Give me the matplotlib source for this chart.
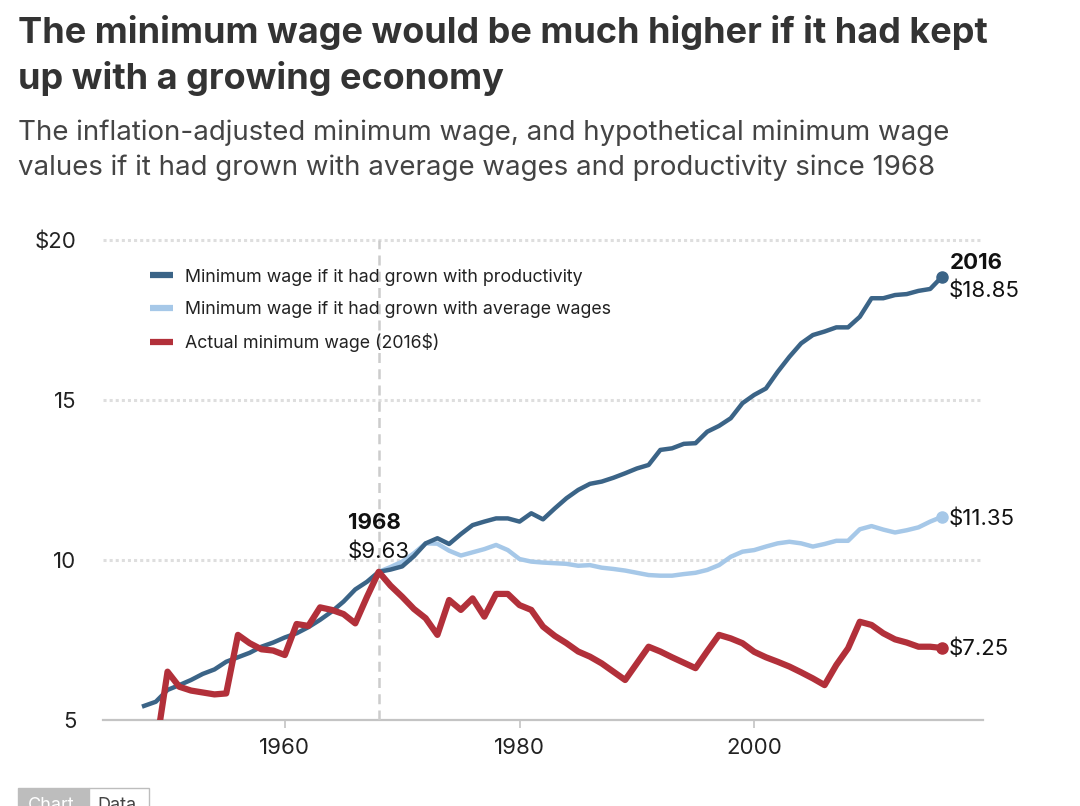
# Minimum wage vs. productivity and average wages, 1948-2016
import numpy as np
import matplotlib.pyplot as plt
import matplotlib.patches as mpatches

plt.rcParams['font.family'] = ['Inter', 'DejaVu Sans']

# data (2016 dollars)
years = list(range(1948, 2017))
productivity = [5.44, 5.57, 5.94, 6.09, 6.25, 6.44, 6.58, 6.82, 6.96, 7.10,
                7.29, 7.42, 7.58, 7.71, 7.90, 8.13, 8.39, 8.70, 9.08, 9.32,
                9.63, 9.70, 9.80, 10.12, 10.52, 10.68, 10.50, 10.81, 11.09, 11.20,
                11.30, 11.30, 11.20, 11.46, 11.27, 11.61, 11.93, 12.19, 12.38, 12.45,
                12.57, 12.71, 12.86, 12.97, 13.44, 13.49, 13.63, 13.65, 14.01, 14.19,
                14.43, 14.90, 15.16, 15.36, 15.88, 16.35, 16.77, 17.03, 17.14, 17.27,
                17.27, 17.60, 18.18, 18.18, 18.28, 18.31, 18.41, 18.47, 18.85]

avg_years = list(range(1968, 2017))
avg_wages = [9.63, 9.78, 9.95, 10.21, 10.52, 10.51, 10.29, 10.14, 10.24, 10.34,
             10.47, 10.31, 10.03, 9.95, 9.92, 9.90, 9.88, 9.82, 9.84, 9.76,
             9.72, 9.67, 9.60, 9.53, 9.51, 9.51, 9.56, 9.60, 9.69, 9.84,
             10.10, 10.26, 10.31, 10.42, 10.52, 10.57, 10.52, 10.42, 10.50, 10.60,
             10.60, 10.96, 11.06, 10.95, 10.86, 10.93, 11.02, 11.20, 11.35]

min_years = list(range(1949, 2017))
actual_min = [4.10, 6.51, 6.04, 5.92, 5.86, 5.80, 5.83, 7.66, 7.40, 7.21,
              7.17, 7.03, 8.00, 7.94, 8.52, 8.44, 8.31, 8.02, 8.85, 9.63,
              9.20, 8.85, 8.47, 8.18, 7.66, 8.75, 8.44, 8.80, 8.23, 8.94,
              8.94, 8.59, 8.44, 7.92, 7.63, 7.40, 7.14, 6.98, 6.77, 6.51,
              6.25, 6.77, 7.29, 7.14, 6.96, 6.79, 6.62, 7.15, 7.66, 7.55,
              7.40, 7.13, 6.96, 6.82, 6.67, 6.49, 6.30, 6.09, 6.72, 7.24,
              8.07, 7.97, 7.71, 7.52, 7.42, 7.29, 7.29, 7.25]

dark_blue = '#3b6487'
light_blue = '#a6c8e8'
red = '#b2303a'

W, H = 1080, 806
fig = plt.figure(figsize=(W / 100, H / 100), dpi=100)
ax = fig.add_axes([103 / W, 1 - 720 / H, (983 - 103) / W, 480 / H])

ax.set_xlim(1944.5, 2019.5)
ax.set_ylim(5, 20)

# gridlines
for v in [10, 15, 20]:
    ax.axhline(v, color='#dedede', lw=2.2, ls=(0, (1, 1)), zorder=1, clip_on=False)
ax.axhline(5, color='#c4c4c4', lw=1.6, zorder=1, clip_on=False)
ax.axvline(1968, color='#cccccc', lw=1.8, ls=(0, (4, 2.5)), zorder=1)

ax.plot(years, productivity, color=dark_blue, lw=3.2, zorder=3,
        solid_joinstyle='round', label='Minimum wage if it had grown with productivity')
ax.plot(avg_years, avg_wages, color=light_blue, lw=3.2, zorder=2,
        solid_joinstyle='round', label='Minimum wage if it had grown with average wages')
ax.plot(min_years, actual_min, color=red, lw=4.5, zorder=4,
        solid_joinstyle='round', label='Actual minimum wage (2016$)')

# end points
ax.plot(years[-1], productivity[-1], 'o', color=dark_blue, ms=8, zorder=5, clip_on=False)
ax.plot(avg_years[-1], avg_wages[-1], 'o', color=light_blue, ms=8, zorder=5, clip_on=False)
ax.plot(min_years[-1], actual_min[-1], 'o', color=red, ms=8, zorder=5, clip_on=False)

for s in ax.spines.values():
    s.set_visible(False)

ax.set_xticks([1960, 1980, 2000])
ax.set_yticks([5, 10, 15, 20])
ax.set_yticklabels(['5', '10', '15', '$20'])
ax.tick_params(axis='x', length=6, width=1.2, color='#c4c4c4', pad=7,
               labelsize=16, labelcolor='#222222')
ax.tick_params(axis='y', length=0, pad=19, labelsize=16, labelcolor='#222222')

leg = ax.legend(loc='upper left', bbox_to_anchor=(0.045, 0.955), frameon=False,
                fontsize=12.8, handlelength=1.3, handletextpad=0.7,
                labelspacing=0.85, borderaxespad=0)
for line in leg.get_lines():
    line.set_linewidth(4.5)
    line.set_solid_capstyle('butt')
for t in leg.get_texts():
    t.set_color('#222222')

# annotations
ax.annotate('1968', (1968, 9.63), xytext=(-31, 49), textcoords='offset pixels',
            fontsize=16, fontweight='bold', color='#111111', va='center')
ax.annotate('$9.63', (1968, 9.63), xytext=(-31, 20), textcoords='offset pixels',
            fontsize=16, color='#111111', va='center')
ax.annotate('2016', (2016, 18.85), xytext=(8, 14), textcoords='offset pixels',
            fontsize=16, fontweight='bold', color='#111111', va='center',
            annotation_clip=False)
ax.annotate('$18.85', (2016, 18.85), xytext=(7, -14), textcoords='offset pixels',
            fontsize=16, color='#111111', va='center', annotation_clip=False)
ax.annotate('$11.35', (2016, 11.35), xytext=(7, -2), textcoords='offset pixels',
            fontsize=16, color='#111111', va='center', annotation_clip=False)
ax.annotate('$7.25', (2016, 7.25), xytext=(7, -1), textcoords='offset pixels',
            fontsize=16, color='#111111', va='center', annotation_clip=False)

# title and subtitle
fig.text(18 / W, 1 - 33 / H, 'The minimum wage would be much higher if it had kept',
         fontsize=26, fontweight='bold', color='#333333', va='center')
fig.text(18 / W, 1 - 78 / H, 'up with a growing economy',
         fontsize=26, fontweight='bold', color='#333333', va='center')
fig.text(18 / W, 1 - 133 / H,
         'The inflation-adjusted minimum wage, and hypothetical minimum wage',
         fontsize=19.9, color='#444444', va='center')
fig.text(18 / W, 1 - 168 / H,
         'values if it had grown with average wages and productivity since 1968',
         fontsize=19.9, color='#444444', va='center')

# chart / data toggle, cut off at the bottom edge
fig.add_artist(mpatches.Rectangle((18 / W, 1 - 830 / H), 71 / W, 42 / H,
                                  transform=fig.transFigure, facecolor='#bdbdbd',
                                  edgecolor='#bdbdbd', lw=1))
fig.add_artist(mpatches.Rectangle((89 / W, 1 - 830 / H), 60 / W, 42 / H,
                                  transform=fig.transFigure, facecolor='white',
                                  edgecolor='#bdbdbd', lw=1))
fig.text(28 / W, 1 - 797 / H, 'Chart', fontsize=13, color='white', va='top')
fig.text(97 / W, 1 - 797 / H, 'Data', fontsize=13, color='#444444', va='top')

fig.savefig('out.png', dpi=100)
